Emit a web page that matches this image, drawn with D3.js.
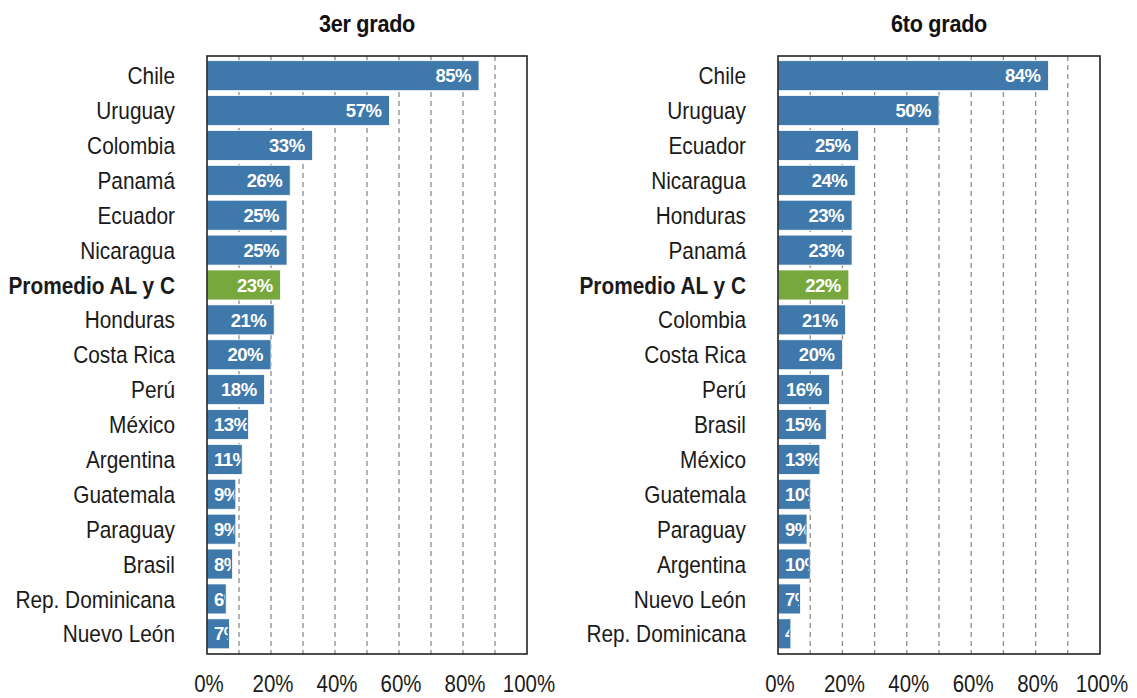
<!DOCTYPE html>
<html>
<head>
<meta charset="utf-8">
<script src="https://cdn.jsdelivr.net/npm/d3@7"></script>
<style>
	body { margin: 0; background: #fff; }
	text { font-family: "Liberation Sans", Arial, sans-serif; }
</style>
</head>
<body>
<svg id="chart" width="1137" height="698"></svg>
<script>
	//3er grado
var countries3 = ["Chile", "Uruguay", "Colombia", "Panamá", "Ecuador", "Nicaragua", "Promedio AL y C", "Honduras", "Costa Rica", "Perú", "México", "Argentina", "Guatemala", "Paraguay", "Brasil", "Rep. Dominicana", "Nuevo León"];
var values3 = [85, 57, 33, 26, 25, 25, 23, 21, 20, 18, 13, 11, 9, 9, 8, 6, 7];

	//6to grado
var countries6 = ["Chile", "Uruguay", "Ecuador", "Nicaragua", "Honduras", "Panamá", "Promedio AL y C", "Colombia", "Costa Rica", "Perú", "Brasil", "México", "Guatemala", "Paraguay", "Argentina", "Nuevo León", "Rep. Dominicana"];
var values6 = [84, 50, 25, 24, 23, 23, 22, 21, 20, 16, 15, 13, 10, 9, 10, 7, 4];

var titles = ["3er grado", "6to grado"];
var averageName = "Promedio AL y C";
var axisTicks = [0, 20, 40, 60, 80, 100];
var gridTicks = [10, 20, 30, 40, 50, 60, 70, 80, 90];

var svg = d3.select("#chart");
var plotTop = 56, plotBottom = 654;

drawPanel(titles[0], countries3, values3, 207, 527, "p3");
drawPanel(titles[1], countries6, values6, 778, 1100, "p6");

function drawPanel(title, countries, values, left, right, id) {
	var g = svg.append("g");

	var x = d3.scaleLinear()
	    .domain([0, 100])
	    .range([left, right]);

	var y = d3.scaleBand()
	    .domain(countries)
	    .range([plotTop + 0.5, plotBottom - 1])
	    .paddingInner(0.14)
	    .paddingOuter(0.12);

		//title (condensed look: squeeze horizontally)
	g.append("text")
	    .attr("transform", "translate(" + ((left + right) / 2) + ",32) scale(0.9,1)")
	    .attr("text-anchor", "middle")
	    .style("font-weight", "bold")
	    .style("font-size", "24px")
	    .style("letter-spacing", "-0.3px")
	    .attr("fill", "#111")
	    .text(title);

		//dashed grid
	g.selectAll(".grid")
	    .data(gridTicks)
	    .enter().append("line")
	      .attr("x1", function(d) { return x(d); })
	      .attr("x2", function(d) { return x(d); })
	      .attr("y1", plotTop)
	      .attr("y2", plotBottom)
	      .attr("stroke", "#8c8c8c")
	      .attr("stroke-width", 1.3)
	      .attr("stroke-dasharray", "5,4");

		//bars
	var rows = g.selectAll(".row")
	    .data(countries)
	    .enter().append("g");

	rows.append("clipPath")
	    .attr("id", function(d, i) { return id + "-clip-" + i; })
	  .append("rect")
	    .attr("x", x(0))
	    .attr("y", function(d) { return y(d); })
	    .attr("width", function(d, i) { return Math.max(0, x(values[i]) - x(0) - 1.5); })
	    .attr("height", y.bandwidth());

	rows.append("rect")
	    .attr("x", x(0))
	    .attr("y", function(d) { return y(d); })
	    .attr("width", function(d, i) { return x(values[i]) - x(0); })
	    .attr("height", y.bandwidth())
	    .attr("fill", function(d) { return d == averageName ? "#77a83e" : "#3f78aa"; })
	    .attr("stroke", "#fff")
	    .attr("stroke-width", 0.8);

		//value labels, clipped to the bar
	rows.append("text")
	    .attr("clip-path", function(d, i) { return "url(#" + id + "-clip-" + i + ")"; })
	    .attr("y", function(d) { return y(d) + y.bandwidth() / 2; })
	    .attr("dy", "0.36em")
	    .style("font-weight", "bold")
	    .style("font-size", "18.5px")
	    .style("letter-spacing", "-0.5px")
	    .attr("fill", "#fff")
	    .text(function(d, i) { return values[i] + "%"; })
	    .attr("x", function(d, i) {
	    	var w = this.getComputedTextLength();
	    	return Math.max(x(0) + 7, x(values[i]) - 8 - w);
	    });

		//country names
	g.selectAll(".name")
	    .data(countries)
	    .enter().append("text")
	      .attr("transform", function(d) { return "translate(" + (left - 32) + "," + (y(d) + y.bandwidth() / 2) + ") scale(0.85,1)"; })
	      .attr("dy", "0.35em")
	      .attr("text-anchor", "end")
	      .style("font-size", "24.5px")
	      .style("font-weight", function(d) { return d == averageName ? "bold" : "normal"; })
	      .attr("fill", "#1a1a1a")
	      .text(function(d) { return d; });

		//frame
	g.append("rect")
	    .attr("x", left)
	    .attr("y", plotTop)
	    .attr("width", right - left)
	    .attr("height", plotBottom - plotTop)
	    .attr("fill", "none")
	    .attr("stroke", "#222")
	    .attr("stroke-width", 1.6);

		//x axis labels
	var axis = d3.axisBottom(x)
	    .tickValues(axisTicks)
	    .tickSize(0)
	    .tickPadding(0)
	    .tickFormat(function(d) { return d + "%"; });

	var ax = g.append("g")
	    .attr("transform", "translate(1.5,684)")
	    .call(axis);

	ax.select(".domain").remove();
	ax.selectAll("text")
	    .attr("y", 0)
	    .attr("dy", "0.35em")
	    .attr("transform", "scale(0.87,1)")
	    .style("font-family", "'Liberation Sans', Arial, sans-serif")
	    .style("font-size", "23.5px")
	    .attr("fill", "#1a1a1a");
}
</script>
</body>
</html>
